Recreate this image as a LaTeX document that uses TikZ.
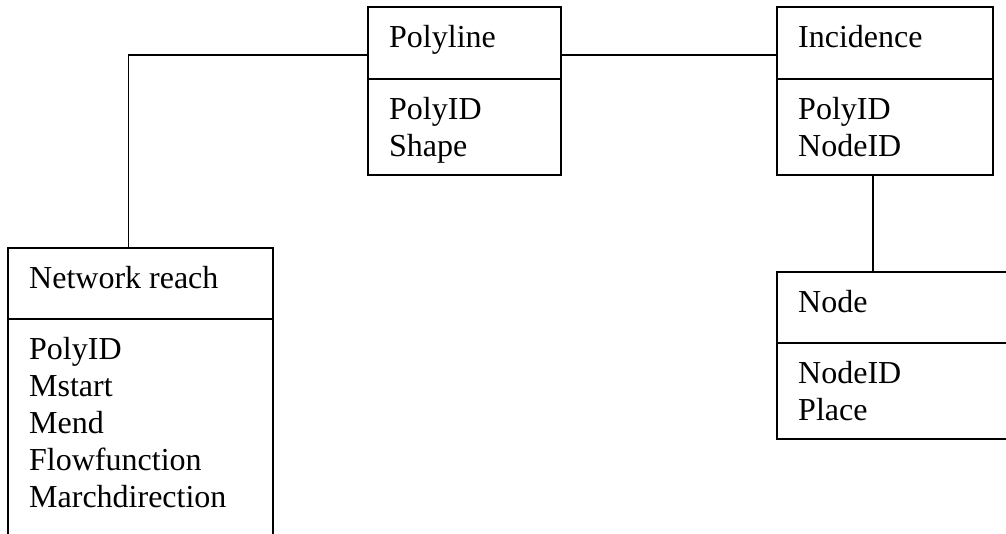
\documentclass[tikz,border=0pt]{standalone}
\usepackage{fontspec}
\setmainfont{Liberation Serif}
\usepackage{tikz}

\tikzset{
  box/.style={draw, line width=1.7pt, inner sep=0pt, outer sep=0pt, anchor=north west},
  fieldtext/.style={anchor=base west, inner sep=0pt, align=left},
  link/.style={line width=1.5pt},
}

\begin{document}
\begin{tikzpicture}[x=1pt,y=-1pt,
    every node/.append style={font=\fontsize{32}{37}\selectfont}]
  \clip (0,0) rectangle (1006,533);
  % Polyline
  \node[box, minimum width=193pt, minimum height=72pt] (polyhead) at (368,7) {};
  \node[box, minimum width=193pt, minimum height=96pt] (polybody) at (368,79) {};
  \node[fieldtext] (polytitle) at (389,47) {Polyline};
  \node[fieldtext] (polyfields) at (389,156) {PolyID\\Shape};
  % Incidence
  \node[box, minimum width=216pt, minimum height=72pt] (inchead) at (777,7) {};
  \node[box, minimum width=216pt, minimum height=96pt] (incbody) at (777,79) {};
  \node[fieldtext] (inctitle) at (798,47) {Incidence};
  \node[fieldtext] (incfields) at (798,156) {PolyID\\NodeID};
  % Network reach
  \node[box, minimum width=265pt, minimum height=71pt] (reachhead) at (8,248) {};
  \node[box, minimum width=265pt, minimum height=240pt] (reachbody) at (8,319) {};
  \node[fieldtext] (reachtitle) at (29,288) {Network reach};
  \node[fieldtext] (reachfields) at (29,507) {PolyID\\Mstart\\Mend\\Flowfunction\\Marchdirection};
  % Node
  \node[box, minimum width=253pt, minimum height=71pt] (nodehead) at (777,272) {};
  \node[box, minimum width=253pt, minimum height=96pt] (nodebody) at (777,343) {};
  \node[fieldtext] (nodetitle) at (798,312) {Node};
  \node[fieldtext] (nodefields) at (798,420) {NodeID\\Place};

  % links
  \draw[link] ([yshift=-12pt]polyhead.west) -| ([xshift=-12pt]reachhead.north);
  \draw[link] ([yshift=-12pt]polyhead.east) -- ([yshift=-12pt]inchead.west);
  \draw[link] ([xshift=-12pt]incbody.south) -- ([xshift=-12pt]incbody.south |- nodehead.north);
\end{tikzpicture}
\end{document}
